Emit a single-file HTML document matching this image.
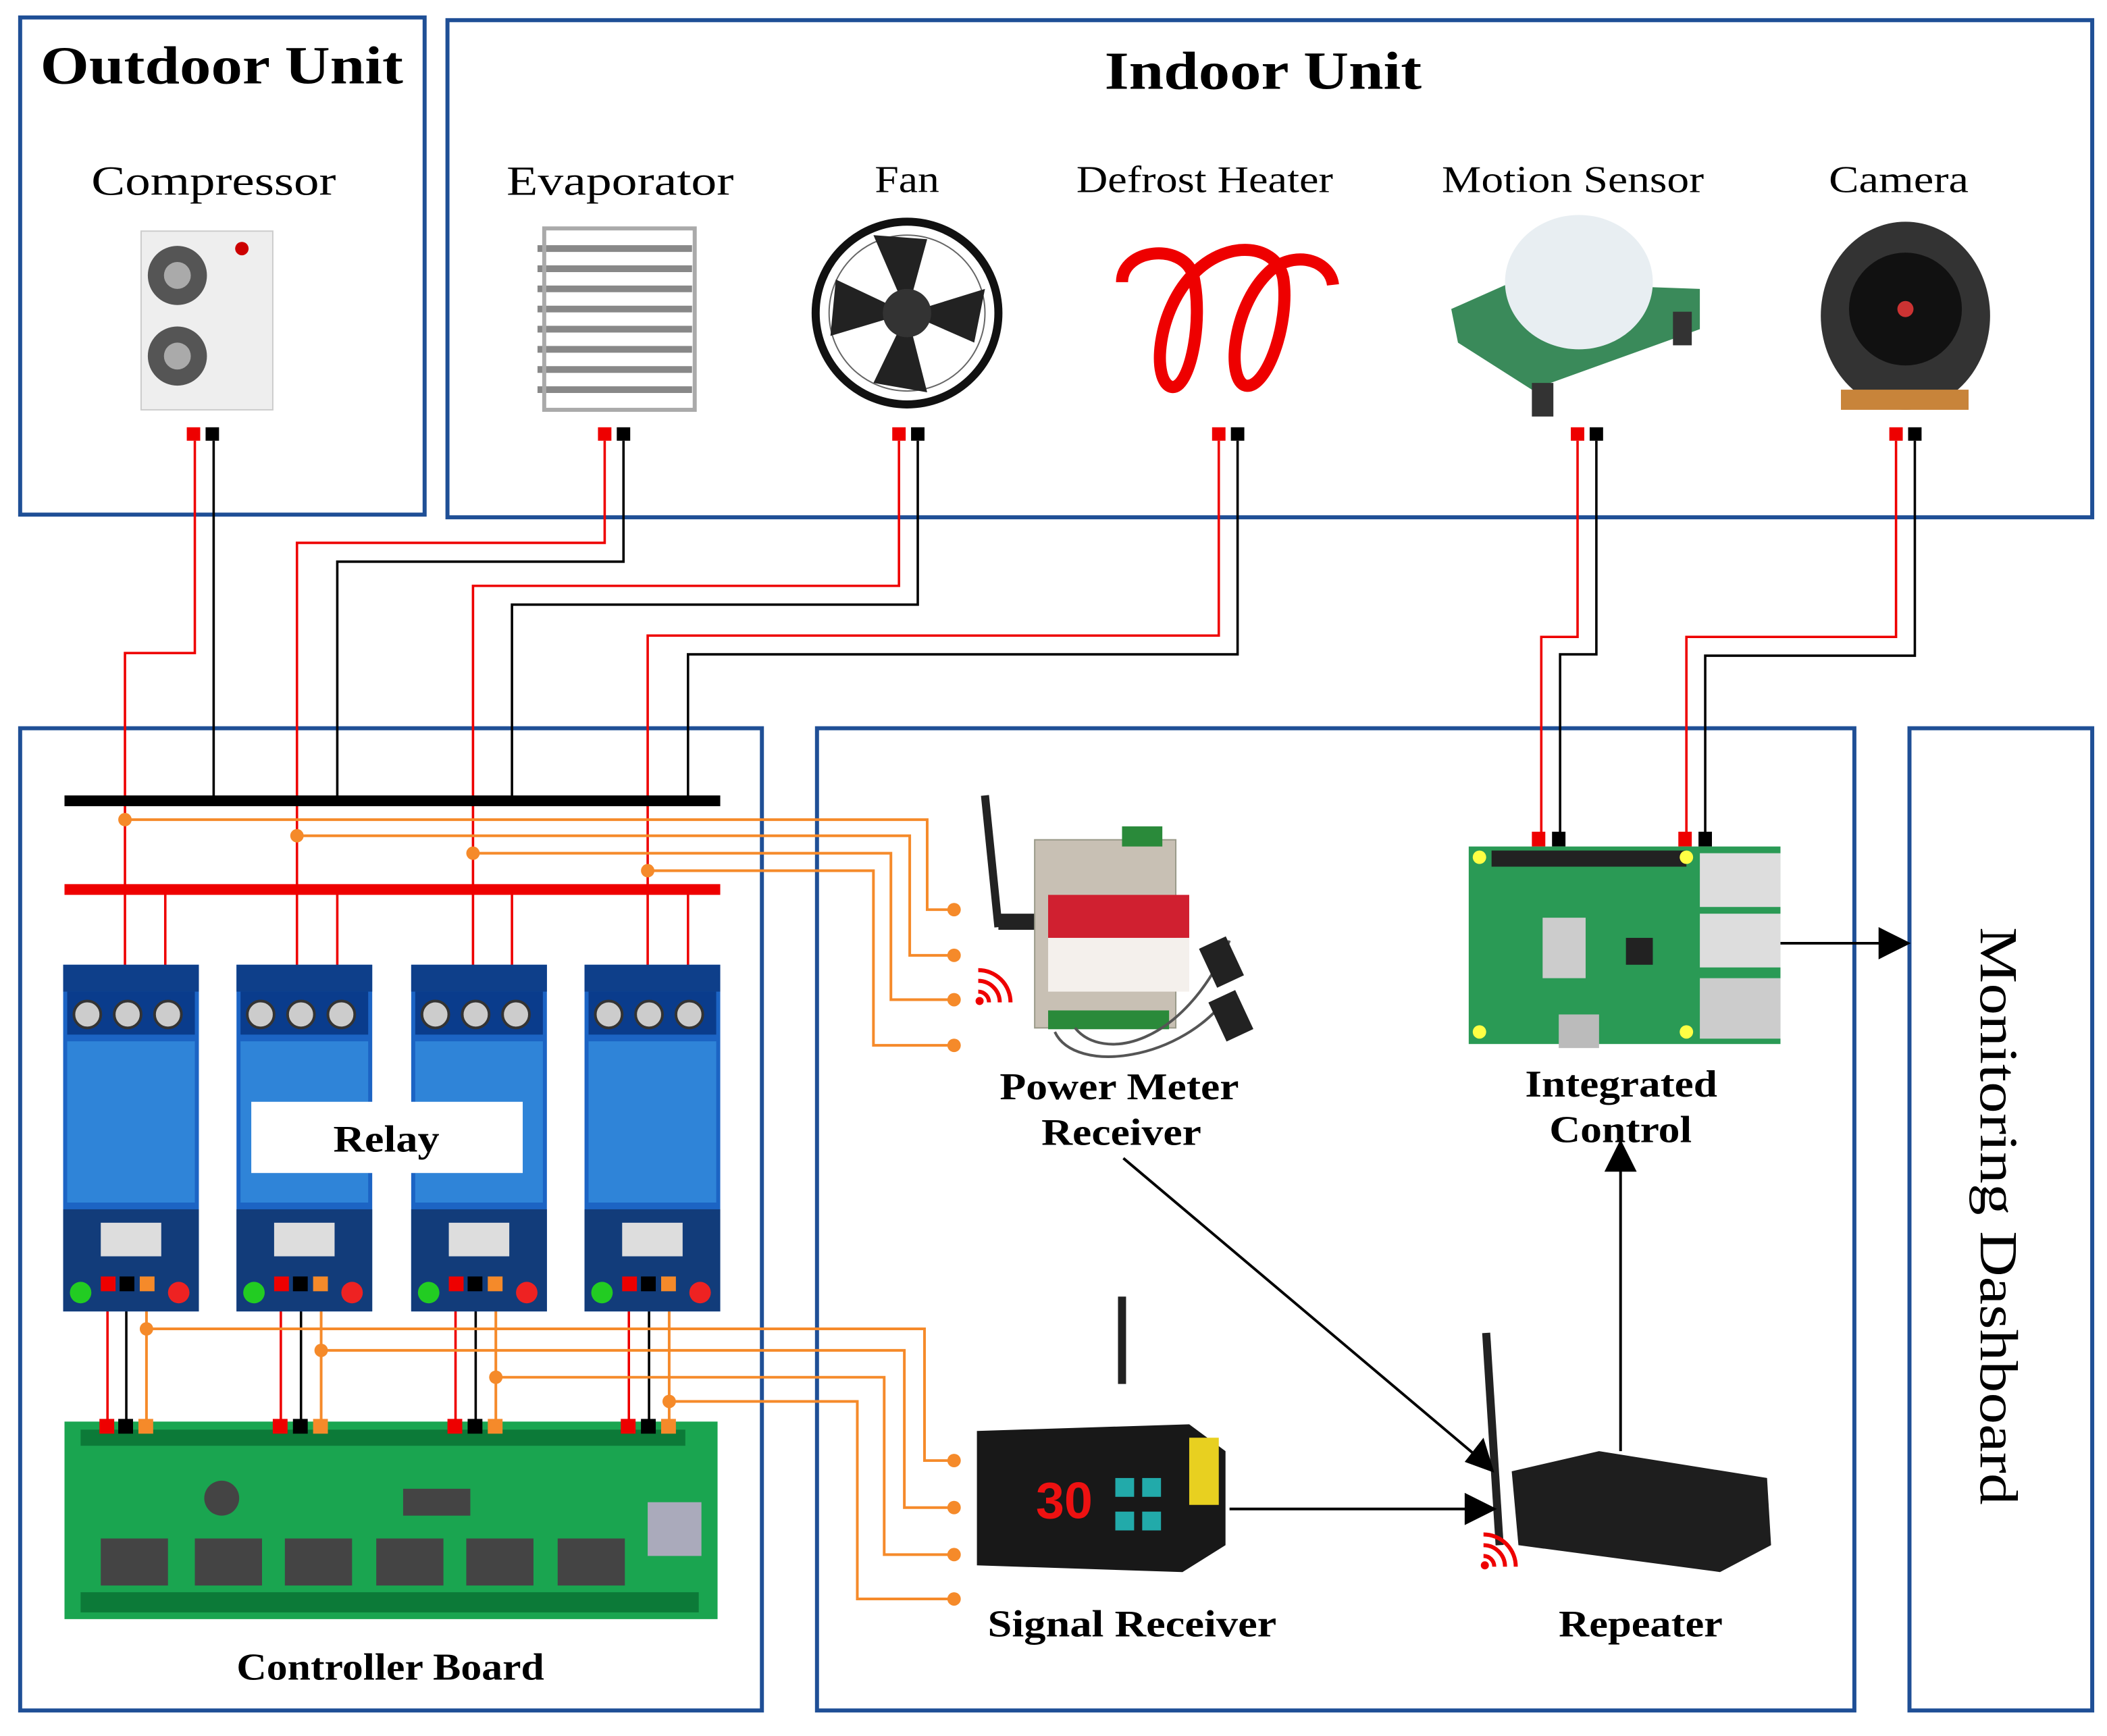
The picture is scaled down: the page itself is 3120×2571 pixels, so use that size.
<!DOCTYPE html>
<html><head><meta charset="utf-8"><style>html,body{margin:0;padding:0;background:#fff}svg{display:block}</style></head><body>
<svg width="3120" height="2571" viewBox="0 0 1568 1292" preserveAspectRatio="none" xmlns="http://www.w3.org/2000/svg" font-family="'Liberation Serif',serif">
<rect width="1568" height="1292" fill="#fff"/>
<g fill="none" stroke="#1f4f96" stroke-width="3">
<rect x="15" y="13" width="301" height="370"/>
<rect x="333" y="15" width="1224" height="370"/>
<rect x="15" y="542" width="552" height="731"/>
<rect x="608" y="542" width="772" height="731"/>
<rect x="1421" y="542" width="136" height="731"/>
</g>
<g fill="#000" lengthAdjust="spacingAndGlyphs">
<text x="30" y="62" font-size="40" font-weight="bold" textLength="270" lengthAdjust="spacingAndGlyphs">Outdoor Unit</text>
<text x="822" y="66" font-size="40" font-weight="bold" textLength="236" lengthAdjust="spacingAndGlyphs">Indoor Unit</text>
<g font-size="31">
<text x="68" y="145" textLength="182" lengthAdjust="spacingAndGlyphs">Compressor</text>
<text x="377" y="145" textLength="169" lengthAdjust="spacingAndGlyphs">Evaporator</text>
<text x="651" y="143" font-size="28" textLength="48" lengthAdjust="spacingAndGlyphs">Fan</text>
<text x="801" y="143" font-size="28" textLength="191" lengthAdjust="spacingAndGlyphs">Defrost Heater</text>
<text x="1073" y="143" font-size="28" textLength="195" lengthAdjust="spacingAndGlyphs">Motion Sensor</text>
<text x="1361" y="143" font-size="28" textLength="104" lengthAdjust="spacingAndGlyphs">Camera</text></g>
<g font-size="28" font-weight="bold">
<text x="744" y="818" textLength="178" lengthAdjust="spacingAndGlyphs">Power Meter</text>
<text x="775" y="852" textLength="119" lengthAdjust="spacingAndGlyphs">Receiver</text>
<text x="1135" y="816" textLength="143" lengthAdjust="spacingAndGlyphs">Integrated</text>
<text x="1153" y="850" textLength="106" lengthAdjust="spacingAndGlyphs">Control</text>
<text x="735" y="1218" textLength="215" lengthAdjust="spacingAndGlyphs">Signal Receiver</text>
<text x="1160" y="1218" textLength="122" lengthAdjust="spacingAndGlyphs">Repeater</text>
<text x="176" y="1250" textLength="229" lengthAdjust="spacingAndGlyphs">Controller Board</text></g>
<text transform="translate(1474,690) rotate(90)" font-size="40" textLength="430" lengthAdjust="spacingAndGlyphs">Monitoring Dashboard</text>
</g>
<!-- devices top -->
<rect x="105" y="172" width="98" height="133" fill="#eee" stroke="#ccc"/><circle cx="132" cy="205" r="22" fill="#555"/><circle cx="132" cy="205" r="10" fill="#aaa"/><circle cx="132" cy="265" r="22" fill="#555"/><circle cx="132" cy="265" r="10" fill="#aaa"/><circle cx="180" cy="185" r="5" fill="#c00"/>
<g stroke="#888" stroke-width="5"><path d="M400 185h115M400 200h115M400 215h115M400 230h115M400 245h115M400 260h115M400 275h115M400 290h115"/></g><rect x="405" y="170" width="112" height="135" fill="none" stroke="#aaa" stroke-width="3"/>
<circle cx="675" cy="233" r="68" fill="#fff" stroke="#111" stroke-width="6"/><circle cx="675" cy="233" r="58" fill="none" stroke="#666" stroke-width="1"/><g fill="#222"><path d="M675 233 L650 175 L690 178Z"/><path d="M675 233 L733 215 L725 255Z"/><path d="M675 233 L690 292 L650 285Z"/><path d="M675 233 L618 250 L622 208Z"/></g><circle cx="675" cy="233" r="18" fill="#333"/>
<path d="M835 210 C835 185 880 180 888 205 C896 240 885 290 872 288 C857 285 860 230 890 202 C915 178 950 182 955 207 C960 242 942 290 927 287 C912 283 917 225 947 200 C967 186 990 195 992 212" fill="none" stroke="#e00" stroke-width="9"/>
<path d="M1080 230 L1125 210 L1265 215 L1265 245 L1140 290 L1085 255Z" fill="#3a8a5a"/><ellipse cx="1175" cy="210" rx="55" ry="50" fill="#e8eef2"/><rect x="1140" y="285" width="16" height="25" fill="#333"/><rect x="1245" y="232" width="14" height="25" fill="#333"/>
<ellipse cx="1418" cy="235" rx="63" ry="70" fill="#333"/><circle cx="1418" cy="230" r="42" fill="#111"/><circle cx="1418" cy="230" r="6" fill="#c33"/><rect x="1370" y="290" width="95" height="15" fill="#c8843a"/>
<!-- pins -->
<g><g fill="#e00"><rect x="139" y="318" width="10" height="10"/><rect x="445" y="318" width="10" height="10"/><rect x="664" y="318" width="10" height="10"/><rect x="902" y="318" width="10" height="10"/><rect x="1169" y="318" width="10" height="10"/><rect x="1406" y="318" width="10" height="10"/><rect x="1140" y="619" width="10" height="11"/><rect x="1249" y="619" width="10" height="11"/></g>
<g fill="#000"><rect x="153" y="318" width="10" height="10"/><rect x="459" y="318" width="10" height="10"/><rect x="678" y="318" width="10" height="10"/><rect x="916" y="318" width="10" height="10"/><rect x="1183" y="318" width="10" height="10"/><rect x="1420" y="318" width="10" height="10"/><rect x="1155" y="619" width="10" height="11"/><rect x="1264" y="619" width="10" height="11"/></g></g>
<g fill="none" stroke-width="1.8">
<g stroke="#e00"><path d="M145 328V486H93V720"/><path d="M450 328V404H221V720"/><path d="M669 328V436H352V720"/><path d="M907 328V473H482V720"/><path d="M1174 328V474H1147V620"/><path d="M1411 328V474H1255V620"/><path d="M123 662V720M251 662V720M381 662V720M512 662V720"/>
<path d="M80 960V1060M209 960V1060M339 960V1060M468 960V1060"/></g>
<g stroke="#000"><path d="M159 328V596"/><path d="M464 328V418H251V596"/><path d="M683 328V450H381V596"/><path d="M921 328V487H512V596"/><path d="M1188 328V487H1161V620"/><path d="M1425 328V488H1269V620"/>
<path d="M94 960V1060M224 960V1060M354 960V1060M483 960V1060"/></g>
<g stroke="#f58a2a" stroke-width="2"><path d="M93 610H690V677H710"/><path d="M221 622H677V711H710"/><path d="M352 635H663V744H710"/><path d="M482 648H650V778H710"/>
<path d="M109 960V1060M239 960V1060M369 960V1060M498 960V1060"/>
<path d="M109 989H688V1087H710"/><path d="M239 1005H673V1122H710"/><path d="M369 1025H658V1157H710"/><path d="M498 1043H638V1190H710"/></g>
</g>
<g fill="#f58a2a"><circle cx="93" cy="610" r="5"/><circle cx="221" cy="622" r="5"/><circle cx="352" cy="635" r="5"/><circle cx="482" cy="648" r="5"/><circle cx="710" cy="677" r="5"/><circle cx="710" cy="711" r="5"/><circle cx="710" cy="744" r="5"/><circle cx="710" cy="778" r="5"/>
<circle cx="109" cy="989" r="5"/><circle cx="239" cy="1005" r="5"/><circle cx="369" cy="1025" r="5"/><circle cx="498" cy="1043" r="5"/><circle cx="710" cy="1087" r="5"/><circle cx="710" cy="1122" r="5"/><circle cx="710" cy="1157" r="5"/><circle cx="710" cy="1190" r="5"/></g>
<rect x="48" y="592" width="488" height="8" fill="#000"/><rect x="48" y="658" width="488" height="8" fill="#e00"/>
<!-- relays -->
<g id="r">
<rect x="47" y="718" width="101" height="258" fill="#1c64c4"/><rect x="47" y="718" width="101" height="20" fill="#0e3f8a"/><rect x="50" y="738" width="95" height="32" fill="#0a3c8c"/>
<circle cx="65" cy="755" r="10" fill="#ccc" stroke="#333" stroke-width="2"/><circle cx="95" cy="755" r="10" fill="#ccc" stroke="#333" stroke-width="2"/><circle cx="125" cy="755" r="10" fill="#ccc" stroke="#333" stroke-width="2"/>
<rect x="50" y="775" width="95" height="120" fill="#2f84d8"/><rect x="47" y="900" width="101" height="76" fill="#123c7a"/><rect x="75" y="910" width="45" height="25" fill="#ddd"/>
<circle cx="60" cy="962" r="8" fill="#2c2"/><circle cx="133" cy="962" r="8" fill="#e22"/>
<rect x="75" y="950" width="11" height="11" fill="#e00"/><rect x="89" y="950" width="11" height="11" fill="#000"/><rect x="104" y="950" width="11" height="11" fill="#f58a2a"/>
</g>
<use href="#r" x="129"/><use href="#r" x="259"/><use href="#r" x="388"/>
<rect x="187" y="820" width="202" height="53" fill="#fff"/><text x="248" y="857" font-size="28" font-weight="bold" textLength="79" lengthAdjust="spacingAndGlyphs">Relay</text>
<!-- controller board -->
<rect x="48" y="1058" width="486" height="147" fill="#1aa550"/>
<g fill="#0c7a38"><rect x="60" y="1064" width="450" height="12"/></g>
<g fill="#444"><rect x="75" y="1145" width="50" height="35"/><rect x="145" y="1145" width="50" height="35"/><rect x="212" y="1145" width="50" height="35"/><rect x="280" y="1145" width="50" height="35"/><rect x="347" y="1145" width="50" height="35"/><rect x="415" y="1145" width="50" height="35"/><rect x="300" y="1108" width="50" height="20"/><circle cx="165" cy="1115" r="13"/></g>
<rect x="482" y="1118" width="40" height="40" fill="#aab"/><rect x="60" y="1185" width="460" height="15" fill="#0c7a38"/>
<g fill="#e00"><rect x="74" y="1056" width="11" height="11"/><rect x="203" y="1056" width="11" height="11"/><rect x="333" y="1056" width="11" height="11"/><rect x="462" y="1056" width="11" height="11"/></g>
<g fill="#000"><rect x="88" y="1056" width="11" height="11"/><rect x="218" y="1056" width="11" height="11"/><rect x="348" y="1056" width="11" height="11"/><rect x="477" y="1056" width="11" height="11"/></g>
<g fill="#f58a2a"><rect x="103" y="1056" width="11" height="11"/><rect x="233" y="1056" width="11" height="11"/><rect x="363" y="1056" width="11" height="11"/><rect x="492" y="1056" width="11" height="11"/></g>
<!-- power meter -->
<path d="M733 592 L743 690" stroke="#222" stroke-width="6"/><rect x="743" y="680" width="30" height="12" fill="#222"/>
<rect x="770" y="625" width="105" height="140" fill="#c8c0b4" stroke="#998" /><rect x="780" y="666" width="105" height="32" fill="#d02030"/><rect x="780" y="698" width="105" height="40" fill="#f4f0ec"/><rect x="835" y="615" width="30" height="15" fill="#2a8a3a"/><rect x="780" y="752" width="90" height="14" fill="#2a8a3a"/>
<path d="M785 768 C800 800 880 790 915 740 M800 765 C820 790 880 780 915 700" fill="none" stroke="#555" stroke-width="2"/><rect x="898" y="700" width="22" height="32" fill="#222" transform="rotate(-25 909 716)"/><rect x="905" y="740" width="22" height="32" fill="#222" transform="rotate(-25 916 756)"/>
<g fill="none" stroke="#e00" stroke-width="3"><path d="M728 738a8 8 0 0 1 8 8M728 730a16 16 0 0 1 16 16M728 722a24 24 0 0 1 24 24"/></g><circle cx="729" cy="745" r="3" fill="#e00"/>
<!-- pi -->
<rect x="1093" y="630" width="232" height="147" fill="#2a9a55"/><rect x="1110" y="633" width="145" height="12" fill="#222"/><rect x="1265" y="635" width="60" height="40" fill="#ddd"/><rect x="1265" y="680" width="60" height="40" fill="#ddd"/><rect x="1265" y="728" width="60" height="45" fill="#ccc"/><rect x="1148" y="683" width="32" height="45" fill="#ccc"/><rect x="1210" y="698" width="20" height="20" fill="#222"/><rect x="1160" y="755" width="30" height="25" fill="#bbb"/>
<g fill="#ff4"><circle cx="1101" cy="638" r="5"/><circle cx="1255" cy="638" r="5"/><circle cx="1101" cy="768" r="5"/><circle cx="1255" cy="768" r="5"/></g>
<!-- signal receiver -->
<path d="M835 965V1030" stroke="#222" stroke-width="6"/>
<path d="M727 1065 L885 1060 L912 1080 L912 1150 L880 1170 L727 1165Z" fill="#181818"/><rect x="885" y="1070" width="22" height="50" fill="#e8d020"/>
<text x="792" y="1130" font-size="38" font-weight="bold" fill="#e11" font-family="'Liberation Sans',sans-serif" text-anchor="middle">30</text><g fill="#2aa"><rect x="830" y="1100" width="14" height="14"/><rect x="850" y="1100" width="14" height="14"/><rect x="830" y="1125" width="14" height="14"/><rect x="850" y="1125" width="14" height="14"/></g>
<!-- repeater -->
<path d="M1106 992 L1116 1150" stroke="#222" stroke-width="6"/>
<path d="M1125 1095 L1190 1080 L1315 1100 L1318 1150 L1280 1170 L1130 1150Z" fill="#1e1e1e"/>
<g fill="none" stroke="#e00" stroke-width="3"><path d="M1104 1158a8 8 0 0 1 8 8M1104 1150a16 16 0 0 1 16 16M1104 1142a24 24 0 0 1 24 24"/></g><circle cx="1105" cy="1165" r="3" fill="#e00"/>
<!-- arrows -->
<g stroke="#000" stroke-width="2" fill="none"><path d="M1325 702H1402"/><path d="M915 1123H1095"/><path d="M1206 1080V868"/><path d="M836 862L1098 1083"/></g>
<g fill="#000"><path d="M1422 702L1398 690V714Z"/><path d="M1114 1123L1090 1111V1135Z"/><path d="M1206 848L1194 872H1218Z"/><path d="M1112 1096L1090 1088L1104 1070Z"/></g>
</svg>
</body></html>
